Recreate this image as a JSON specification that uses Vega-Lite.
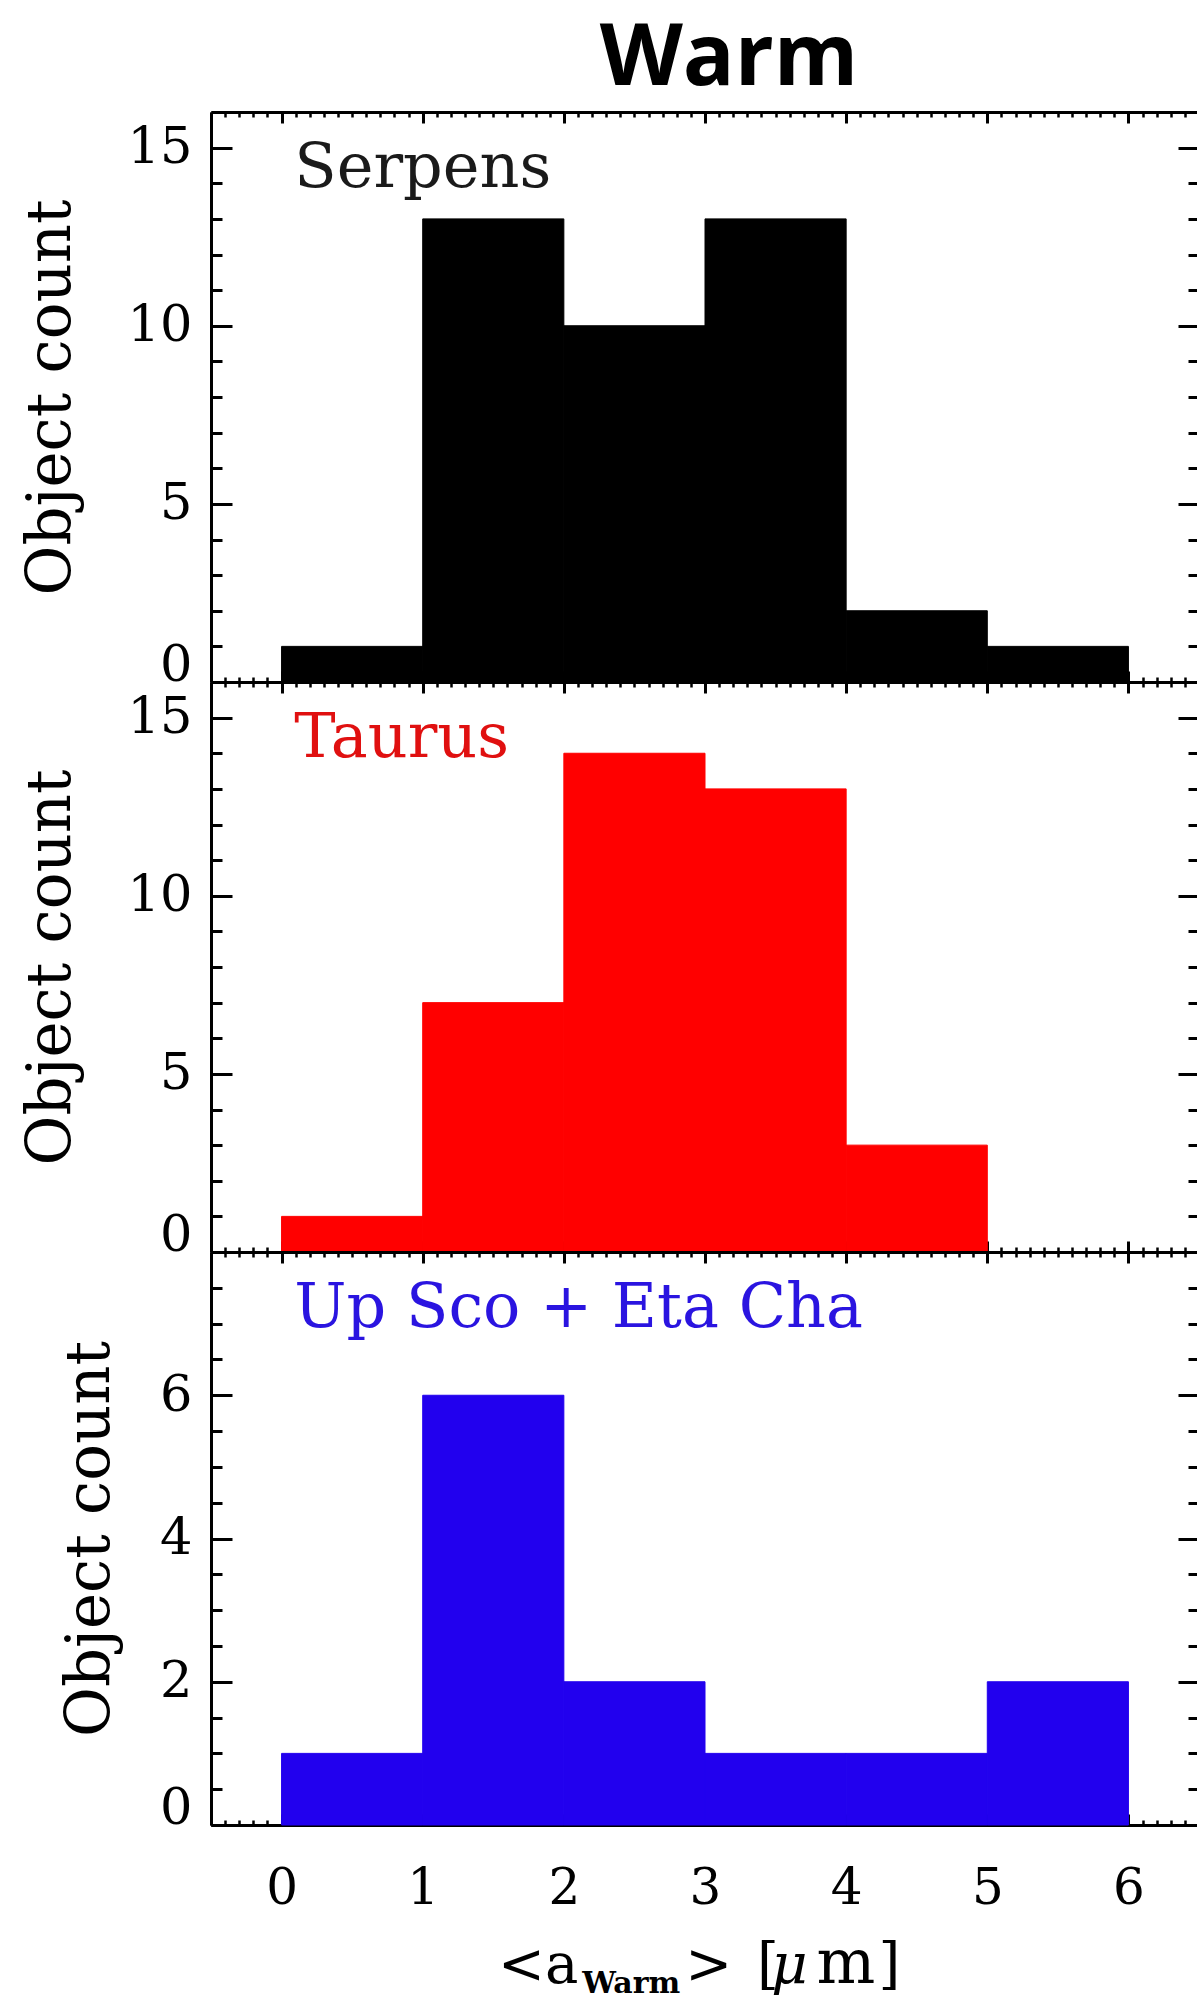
{
  "$schema": "https://vega.github.io/schema/vega-lite/v6.json",
  "autosize": {"type": "none"},
  "padding": {"left": 211, "top": 112, "right": 986, "bottom": 1885},
  "background": "white",
  "datasets": {
    "bins": [
      {"group": "Serpens", "lo": 0, "hi": 1, "count": 1},
      {"group": "Serpens", "lo": 1, "hi": 2, "count": 13},
      {"group": "Serpens", "lo": 2, "hi": 3, "count": 10},
      {"group": "Serpens", "lo": 3, "hi": 4, "count": 13},
      {"group": "Serpens", "lo": 4, "hi": 5, "count": 2},
      {"group": "Serpens", "lo": 5, "hi": 6, "count": 1},
      {"group": "Taurus", "lo": 0, "hi": 1, "count": 1},
      {"group": "Taurus", "lo": 1, "hi": 2, "count": 7},
      {"group": "Taurus", "lo": 2, "hi": 3, "count": 14},
      {"group": "Taurus", "lo": 3, "hi": 4, "count": 13},
      {"group": "Taurus", "lo": 4, "hi": 5, "count": 3},
      {"group": "Taurus", "lo": 5, "hi": 6, "count": 0},
      {"group": "Up Sco + Eta Cha", "lo": 0, "hi": 1, "count": 1},
      {"group": "Up Sco + Eta Cha", "lo": 1, "hi": 2, "count": 6},
      {"group": "Up Sco + Eta Cha", "lo": 2, "hi": 3, "count": 2},
      {"group": "Up Sco + Eta Cha", "lo": 3, "hi": 4, "count": 1},
      {"group": "Up Sco + Eta Cha", "lo": 4, "hi": 5, "count": 1},
      {"group": "Up Sco + Eta Cha", "lo": 5, "hi": 6, "count": 2}
    ]
  },
  "data": {"name": "bins"},
  "spacing": 0,
  "bounds": "flush",
  "vconcat": [
    {
      "width": 988,
      "height": 570,
      "transform": [{"filter": "datum.group === 'Serpens'"}],
      "layer": [
        {
          "mark": {"type": "rect", "color": "#000000", "stroke": "#000000", "strokeWidth": 1},
          "encoding": {
            "x": {"field": "lo", "type": "quantitative", "scale": {"domain": [-0.5, 6.5], "nice": false, "zero": false},
                  "axis": {"orient": "bottom", "values": [0, 1, 2, 3, 4, 5, 6], "tickSize": -11, "labels": false, "title": null}},
            "x2": {"field": "hi"},
            "y": {"field": "count", "type": "quantitative", "scale": {"domain": [0, 16], "nice": false},
                  "axis": {"orient": "left", "values": [0, 5, 10, 15], "tickSize": -21, "labelPadding": 40, "labelFlush": true, "labelFlushOffset": 9, "title": "Object count", "titleX": -160, "titleBaseline": "middle"}},
            "y2": {"datum": 0}
          }
        },
        {
          "mark": {"type": "rect", "opacity": 0},
          "encoding": {
            "x": {"field": "lo", "type": "quantitative", "axis": {"orient": "bottom", "tickCount": 70, "tickSize": -5, "tickWidth": 2.5, "domain": false, "labels": false, "title": null}},
            "x2": {"field": "hi"},
            "y": {"field": "count", "type": "quantitative", "axis": {"orient": "left", "tickCount": 16, "tickSize": -11, "domain": false, "labels": false, "title": null}},
            "y2": {"datum": 0}
          }
        },
        {
          "mark": {"type": "rect", "opacity": 0},
          "encoding": {
            "x": {"field": "lo", "type": "quantitative", "axis": {"orient": "top", "values": [0, 1, 2, 3, 4, 5, 6], "tickSize": -11, "labels": false, "title": null}},
            "x2": {"field": "hi"},
            "y": {"field": "count", "type": "quantitative", "axis": {"orient": "right", "values": [0, 5, 10, 15], "tickSize": -21, "labels": false, "title": null}},
            "y2": {"datum": 0}
          }
        },
        {
          "mark": {"type": "rect", "opacity": 0},
          "encoding": {
            "x": {"field": "lo", "type": "quantitative", "axis": {"orient": "top", "tickCount": 70, "tickSize": -5, "tickWidth": 2.5, "domain": false, "labels": false, "title": null}},
            "x2": {"field": "hi"},
            "y": {"field": "count", "type": "quantitative", "axis": {"orient": "right", "tickCount": 16, "tickSize": -11, "domain": false, "labels": false, "title": null}},
            "y2": {"datum": 0}
          }
        },
        {
          "transform": [{"filter": "datum.lo === 0"}],
          "mark": {"type": "text", "font": "DejaVu Serif", "fontSize": 62, "color": "#1a1a1a", "align": "left", "baseline": "alphabetic"},
          "encoding": {
            "text": {"field": "group"},
            "x": {"datum": 0.09, "axis": null},
            "y": {"datum": 13.9, "axis": null}
          }
        },
        {
          "transform": [{"filter": "datum.lo === 0"}],
          "mark": {"type": "text", "text": "Warm", "font": "Open Sans", "fontSize": 86, "fontWeight": "bold", "color": "black", "align": "center", "baseline": "alphabetic"},
          "encoding": {
            "x": {"datum": 3.17, "axis": null},
            "y": {"datum": 16.76, "axis": null}
          }
        }
      ],
      "resolve": {"axis": {"x": "independent", "y": "independent"}}
    },
    {
      "width": 988,
      "height": 570,
      "transform": [{"filter": "datum.group === 'Taurus'"}],
      "layer": [
        {
          "mark": {"type": "rect", "color": "#ff0000", "stroke": "#ff0000", "strokeWidth": 1},
          "encoding": {
            "x": {"field": "lo", "type": "quantitative", "scale": {"domain": [-0.5, 6.5], "nice": false, "zero": false},
                  "axis": {"orient": "bottom", "values": [0, 1, 2, 3, 4, 5, 6], "tickSize": -11, "labels": false, "title": null}},
            "x2": {"field": "hi"},
            "y": {"field": "count", "type": "quantitative", "scale": {"domain": [0, 16], "nice": false},
                  "axis": {"orient": "left", "values": [0, 5, 10, 15], "tickSize": -21, "labelPadding": 40, "labelFlush": true, "labelFlushOffset": 9, "title": "Object count", "titleX": -160, "titleBaseline": "middle"}},
            "y2": {"datum": 0}
          }
        },
        {
          "mark": {"type": "rect", "opacity": 0},
          "encoding": {
            "x": {"field": "lo", "type": "quantitative", "axis": {"orient": "bottom", "tickCount": 70, "tickSize": -5, "tickWidth": 2.5, "domain": false, "labels": false, "title": null}},
            "x2": {"field": "hi"},
            "y": {"field": "count", "type": "quantitative", "axis": {"orient": "left", "tickCount": 16, "tickSize": -11, "domain": false, "labels": false, "title": null}},
            "y2": {"datum": 0}
          }
        },
        {
          "mark": {"type": "rect", "opacity": 0},
          "encoding": {
            "x": {"field": "lo", "type": "quantitative", "axis": {"orient": "top", "values": [0, 1, 2, 3, 4, 5, 6], "tickSize": -11, "labels": false, "title": null}},
            "x2": {"field": "hi"},
            "y": {"field": "count", "type": "quantitative", "axis": {"orient": "right", "values": [0, 5, 10, 15], "tickSize": -21, "labels": false, "title": null}},
            "y2": {"datum": 0}
          }
        },
        {
          "mark": {"type": "rect", "opacity": 0},
          "encoding": {
            "x": {"field": "lo", "type": "quantitative", "axis": {"orient": "top", "tickCount": 70, "tickSize": -5, "tickWidth": 2.5, "domain": false, "labels": false, "title": null}},
            "x2": {"field": "hi"},
            "y": {"field": "count", "type": "quantitative", "axis": {"orient": "right", "tickCount": 16, "tickSize": -11, "domain": false, "labels": false, "title": null}},
            "y2": {"datum": 0}
          }
        },
        {
          "transform": [{"filter": "datum.lo === 0"}],
          "mark": {"type": "text", "font": "DejaVu Serif", "fontSize": 62, "color": "#e01010", "align": "left", "baseline": "alphabetic"},
          "encoding": {
            "text": {"field": "group"},
            "x": {"datum": 0.09, "axis": null},
            "y": {"datum": 13.9, "axis": null}
          }
        }
      ],
      "resolve": {"axis": {"x": "independent", "y": "independent"}}
    },
    {
      "width": 988,
      "height": 573,
      "transform": [{"filter": "datum.group === 'Up Sco + Eta Cha'"}],
      "layer": [
        {
          "mark": {"type": "rect", "color": "#2200ee", "stroke": "#2200ee", "strokeWidth": 1},
          "encoding": {
            "x": {"field": "lo", "type": "quantitative", "scale": {"domain": [-0.5, 6.5], "nice": false, "zero": false},
                  "axis": {"orient": "bottom", "values": [0, 1, 2, 3, 4, 5, 6], "tickSize": -11, "labels": true, "labelFontSize": 50, "labelPadding": 49, "title": null}},
            "x2": {"field": "hi"},
            "y": {"field": "count", "type": "quantitative", "scale": {"domain": [0, 8], "nice": false},
                  "axis": {"orient": "left", "values": [0, 2, 4, 6], "tickSize": -21, "labelPadding": 40, "labelFlush": true, "labelFlushOffset": 9, "title": "Object count", "titleX": -121, "titleBaseline": "middle"}},
            "y2": {"datum": 0}
          }
        },
        {
          "mark": {"type": "rect", "opacity": 0},
          "encoding": {
            "x": {"field": "lo", "type": "quantitative", "axis": {"orient": "bottom", "tickCount": 70, "tickSize": -5, "tickWidth": 2.5, "domain": false, "labels": false, "title": null}},
            "x2": {"field": "hi"},
            "y": {"field": "count", "type": "quantitative", "axis": {"orient": "left", "tickCount": 16, "tickSize": -11, "domain": false, "labels": false, "title": null}},
            "y2": {"datum": 0}
          }
        },
        {
          "mark": {"type": "rect", "opacity": 0},
          "encoding": {
            "x": {"field": "lo", "type": "quantitative", "axis": {"orient": "top", "values": [0, 1, 2, 3, 4, 5, 6], "tickSize": -11, "labels": false, "title": null}},
            "x2": {"field": "hi"},
            "y": {"field": "count", "type": "quantitative", "axis": {"orient": "right", "values": [0, 2, 4, 6], "tickSize": -21, "labels": false, "title": null}},
            "y2": {"datum": 0}
          }
        },
        {
          "mark": {"type": "rect", "opacity": 0},
          "encoding": {
            "x": {"field": "lo", "type": "quantitative", "axis": {"orient": "top", "tickCount": 70, "tickSize": -5, "tickWidth": 2.5, "domain": false, "labels": false, "title": null}},
            "x2": {"field": "hi"},
            "y": {"field": "count", "type": "quantitative", "axis": {"orient": "right", "tickCount": 16, "tickSize": -11, "domain": false, "labels": false, "title": null}},
            "y2": {"datum": 0}
          }
        },
        {
          "transform": [{"filter": "datum.lo === 0"}],
          "mark": {"type": "text", "font": "DejaVu Serif", "fontSize": 62, "color": "#2a14e0", "align": "left", "baseline": "alphabetic"},
          "encoding": {
            "text": {"field": "group"},
            "x": {"datum": 0.09, "axis": null},
            "y": {"datum": 6.95, "axis": null}
          }
        },
        {
          "transform": [{"filter": "datum.lo === 0"}],
          "mark": {"type": "text", "text": "<a", "font": "DejaVu Serif", "fontSize": 56, "color": "black", "align": "left", "baseline": "alphabetic"},
          "encoding": {"x": {"datum": 1.534, "axis": null}, "y": {"datum": -2.205, "axis": null}}
        },
        {
          "transform": [{"filter": "datum.lo === 0"}],
          "mark": {"type": "text", "text": "Warm", "font": "DejaVu Serif", "fontSize": 30, "fontWeight": "bold", "color": "black", "align": "left", "baseline": "alphabetic"},
          "encoding": {"x": {"datum": 2.13, "axis": null}, "y": {"datum": -2.35, "axis": null}}
        },
        {
          "transform": [{"filter": "datum.lo === 0"}],
          "mark": {"type": "text", "text": ">", "font": "DejaVu Serif", "fontSize": 56, "color": "black", "align": "left", "baseline": "alphabetic"},
          "encoding": {"x": {"datum": 2.86, "axis": null}, "y": {"datum": -2.205, "axis": null}}
        },
        {
          "transform": [{"filter": "datum.lo === 0"}],
          "mark": {"type": "text", "text": "[", "font": "DejaVu Serif", "fontSize": 56, "color": "black", "align": "left", "baseline": "alphabetic"},
          "encoding": {"x": {"datum": 3.368, "axis": null}, "y": {"datum": -2.205, "axis": null}}
        },
        {
          "transform": [{"filter": "datum.lo === 0"}],
          "mark": {"type": "text", "text": "μ", "font": "DejaVu Serif", "fontSize": 56, "fontStyle": "italic", "color": "black", "align": "left", "baseline": "alphabetic"},
          "encoding": {"x": {"datum": 3.47, "axis": null}, "y": {"datum": -2.205, "axis": null}}
        },
        {
          "transform": [{"filter": "datum.lo === 0"}],
          "mark": {"type": "text", "text": "m", "font": "DejaVu Serif", "fontSize": 62, "color": "black", "align": "left", "baseline": "alphabetic"},
          "encoding": {"x": {"datum": 3.79, "axis": null}, "y": {"datum": -2.205, "axis": null}}
        },
        {
          "transform": [{"filter": "datum.lo === 0"}],
          "mark": {"type": "text", "text": "]", "font": "DejaVu Serif", "fontSize": 56, "color": "black", "align": "left", "baseline": "alphabetic"},
          "encoding": {"x": {"datum": 4.23, "axis": null}, "y": {"datum": -2.205, "axis": null}}
        }
      ],
      "resolve": {"axis": {"x": "independent", "y": "independent"}}
    }
  ],
  "config": {
    "view": {"stroke": null},
    "axis": {
      "grid": false,
      "tickColor": "black",
      "tickWidth": 3,
      "domainColor": "black",
      "domainWidth": 3,
      "labelFont": "DejaVu Serif",
      "labelFontSize": 51,
      "labelColor": "black",
      "labelOverlap": false,
      "labelFlush": false,
      "titleFont": "DejaVu Serif",
      "titleFontSize": 61,
      "titleFontWeight": "normal",
      "titleColor": "black"
    }
  }
}
